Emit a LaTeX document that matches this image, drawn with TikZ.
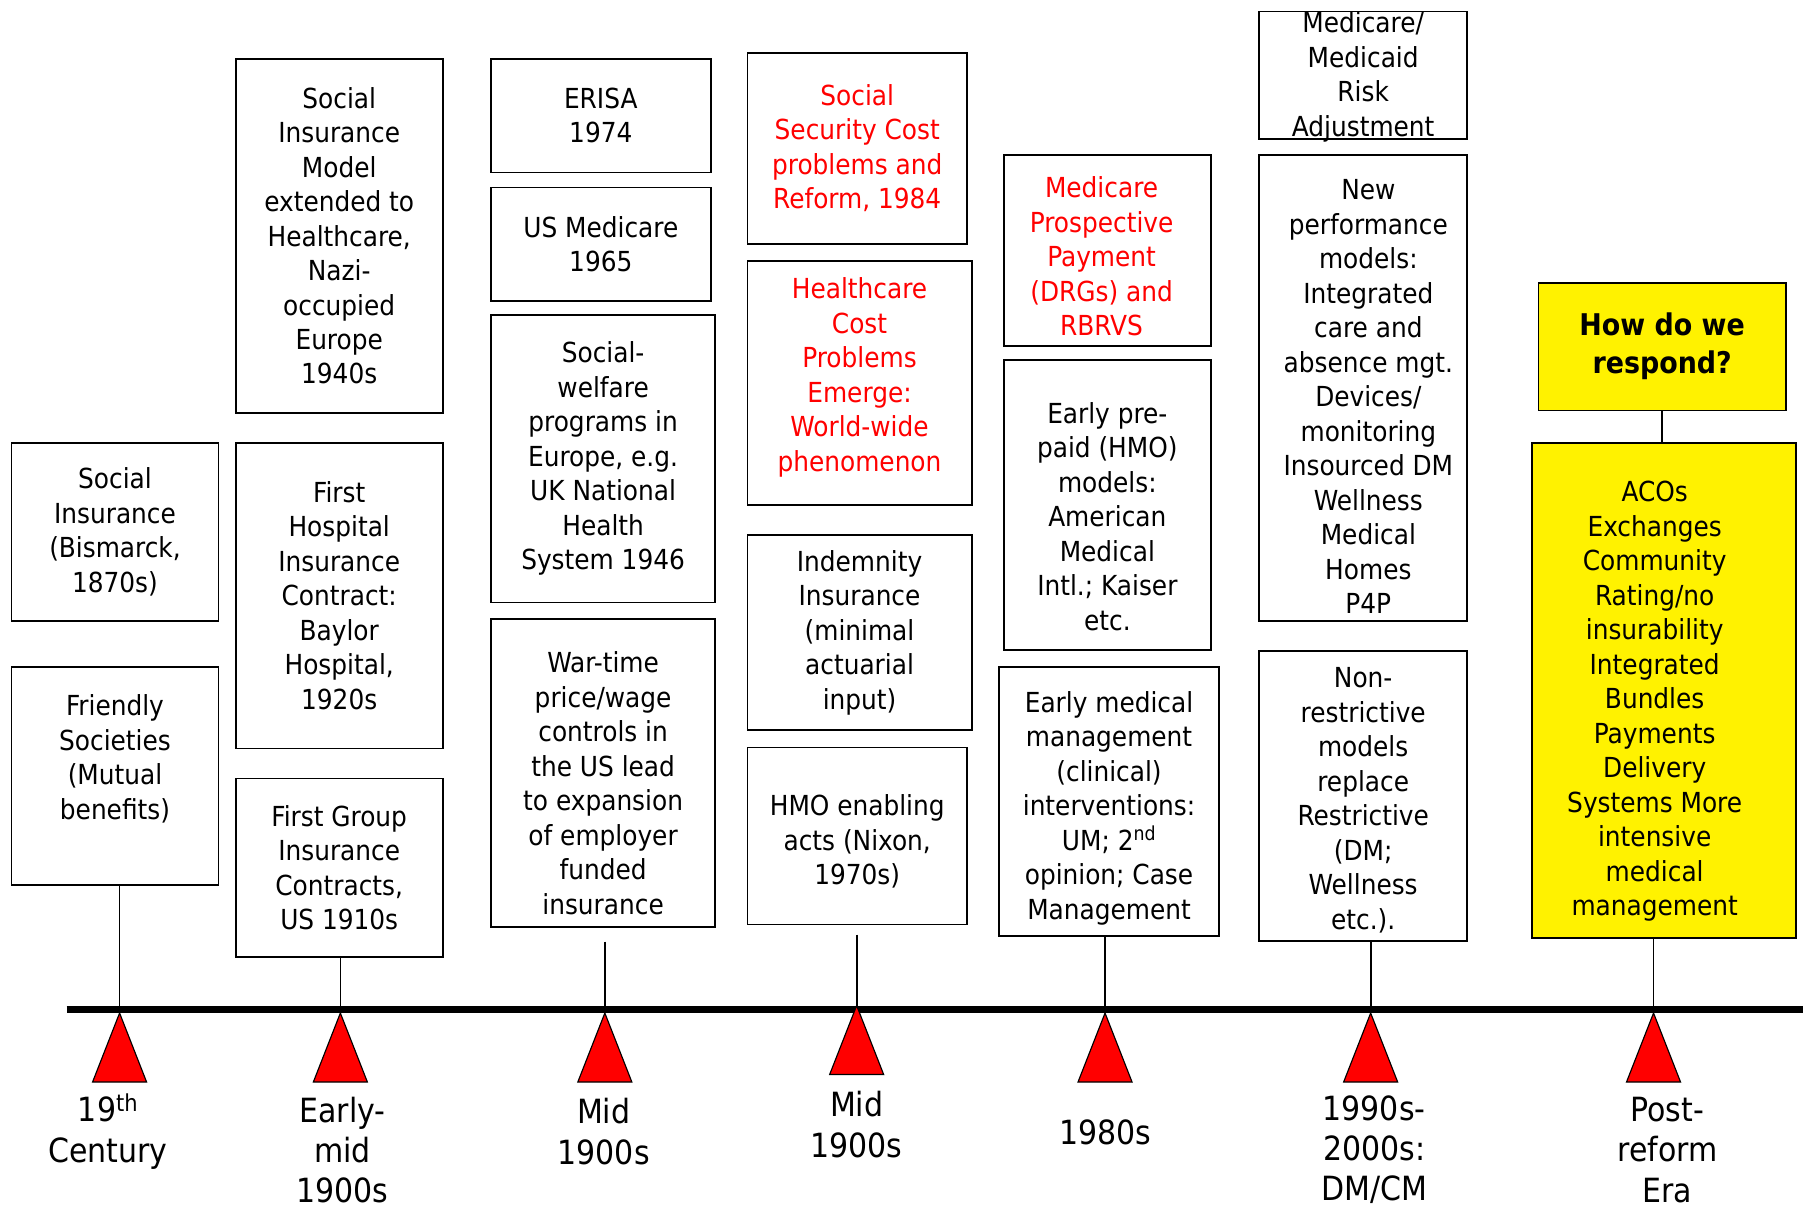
\documentclass[tikz,border=0pt]{standalone}
\usepackage{fontspec}
\setmainfont{DejaVu Sans Condensed}

\newcommand{\boxfont}{\fontsize{24}{30}\selectfont}
\newcommand{\erafont}{\fontsize{29}{35}\selectfont}

\tikzset{
  evbox/.style={draw, line width=1.6pt, fill=white, align=center, inner sep=0pt, font=\boxfont},
  evtext/.style={align=center, inner sep=0pt, font=\boxfont},
  boxdim/.style 2 args={minimum width=#1pt, minimum height=#2pt},
  hot/.style={text=red},
  hilite/.style={fill=yellow},
  era/.style={align=center, font=\erafont},
  stem/.style={line width=1.5pt},
  marker/.style={fill=red, draw=black, line width=1pt}
}

\begin{document}
\begin{tikzpicture}[x=1pt,y=-1pt]
    \useasboundingbox (0,0) rectangle (1568,1051);

    \coordinate (tl) at (58,878);
    \coordinate (tr) at (1568,878);
    \foreach \m/\x in {m1/104,m2/296,m3/526,m4/745,m5/961,m6/1192,m7/1438}
    \coordinate (\m) at (\x,878);

    \node[evbox, boxdim={180}{155}] (bismarck) at (100,462.5) {Social\\Insurance\\(Bismarck,\\1870s)};
    \node[evbox, boxdim={180}{190}] (friendly) at (100,675) {};
    \node[evtext] (friendlytxt) at (100,660) {Friendly\\Societies\\(Mutual\\benefits)};

    \node[evbox, boxdim={180}{308}] (nazi) at (295,205) {Social\\Insurance\\Model\\extended to\\Healthcare,\\Nazi-\\occupied\\Europe\\1940s};
    \node[evbox, boxdim={180}{266}] (baylor) at (295,518) {First\\Hospital\\Insurance\\Contract:\\Baylor\\Hospital,\\1920s};
    \node[evbox, boxdim={180}{155}] (groupins) at (295,754.5) {First Group\\Insurance\\Contracts,\\US 1910s};

    \node[evbox, boxdim={191}{99}] (erisa) at (522.5,100.5) {ERISA\\1974};
    \node[evbox, boxdim={191}{99}] (medicare) at (522.5,212.5) {US Medicare\\1965};
    \node[evbox, boxdim={195}{250}] (welfare) at (524.5,399) {Social-\\welfare\\programs in\\Europe, e.g.\\UK National\\Health\\System 1946};
    \node[evbox, boxdim={195}{268}] (wartime) at (524.5,672) {};
    \node[evtext] (wartimetxt) at (524.5,681) {War-time\\price/wage\\controls in\\the US lead\\to expansion\\of employer\\funded\\insurance};

    \node[evbox, hot, boxdim={191}{166}] (socsec) at (745.5,129) {Social\\Security Cost\\problems and\\Reform, 1984};
    \node[evbox, boxdim={195}{212}] (costprob) at (747.5,333) {};
    \node[evtext, hot] (costprobtxt) at (747.5,328) {Healthcare\\Cost\\Problems\\Emerge:\\World-wide\\phenomenon};
    \node[evbox, boxdim={195}{170}] (indemnity) at (747.5,550) {Indemnity\\Insurance\\(minimal\\actuarial\\input)};
    \node[evbox, boxdim={191}{154}] (hmoacts) at (745.5,727) {};
    \node[evtext] (hmoactstxt) at (745.5,732) {HMO enabling\\acts (Nixon,\\1970s)};

    \node[evbox, boxdim={180}{166}] (drg) at (963,218) {};
    \node[evtext, hot] (drgtxt) at (958,223) {Medicare\\Prospective\\Payment\\(DRGs) and\\RBRVS};
    \node[evbox, boxdim={180}{252}] (prepaid) at (963,439) {};
    \node[evtext] (prepaidtxt) at (963,449) {Early pre-\\paid (HMO)\\models:\\American\\Medical\\Intl.; Kaiser\\etc.};
    \node[evbox, boxdim={191}{234}] (medmgmt) at (964.5,697) {};
    \node[evtext] (medmgmttxt) at (964.5,703) {Early medical\\management\\(clinical)\\interventions:\\UM; 2\textsuperscript{nd}\\opinion; Case\\Management};

    \node[evbox, boxdim={181}{111}] (riskadj) at (1185.5,65.5) {};
    \node[evtext] (riskadjtxt) at (1185.5,67) {Medicare/\\Medicaid\\Risk\\Adjustment};
    \node[evbox, boxdim={181}{405}] (newperf) at (1185.5,337.5) {};
    \node[evtext] (newperftxt) at (1190,345) {New\\performance\\models:\\Integrated\\care and\\absence mgt.\\Devices/\\monitoring\\Insourced DM\\Wellness\\Medical\\Homes\\P4P};
    \node[evbox, boxdim={181}{252}] (nonrestr) at (1185.5,692) {};
    \node[evtext] (nonrestrtxt) at (1185.5,696) {Non-\\restrictive\\models\\replace\\Restrictive\\(DM;\\Wellness\\etc.).};

    \node[evbox, hilite, boxdim={215}{111}, font=\fontsize{26}{33}\selectfont\bfseries] (respond) at (1445.5,301.5) {How do we\\respond?};
    \node[evbox, hilite, boxdim={230}{431}] (reform) at (1447,600.5) {};
    \node[evtext] (reformtxt) at (1439,610) {ACOs\\Exchanges\\Community\\Rating/no\\insurability\\Integrated\\Bundles\\Payments\\Delivery\\Systems More\\intensive\\medical\\management};

    \draw[stem] (respond.south) -- (respond.south |- reform.north);
    \draw[stem] (m1 |- friendly.south) -- (m1);
    \draw[stem] (m2 |- groupins.south) -- (m2);
    \draw[stem] (m3 |- wartime.south) ++(0,12) -- (m3);
    \draw[stem] (m4 |- hmoacts.south) ++(0,8) -- (m4);
    \draw[stem] (m5 |- medmgmt.south) -- (m5);
    \draw[stem] (m6 |- nonrestr.south) -- (m6);
    \draw[stem] (m7 |- reform.south) -- (m7);

    \draw[line width=6.5pt] (tl) -- (tr);

    \foreach \m/\dy in {m1/3,m2/3,m3/3,m4/-3.5,m5/3,m6/3,m7/3}
    \filldraw[marker] (\m) ++(0,\dy) -- ++(23.5,60) -- ++(-47,0) -- cycle;

    \node[era] (era1) at (94,984)    {19\textsuperscript{th}\\Century};
    \node[era] (era2) at (298,1000)  {Early-\\mid\\1900s};
    \node[era] (era3) at (525,984)   {Mid\\1900s};
    \node[era] (era4) at (745,978)   {Mid\\1900s};
    \node[era] (era5) at (961,985)   {1980s};
    \node[era] (era6) at (1195,1000) {1990s-\\2000s:\\DM/CM};
    \node[era] (era7) at (1450,1000) {Post-\\reform\\Era};

\end{tikzpicture}
\end{document}
